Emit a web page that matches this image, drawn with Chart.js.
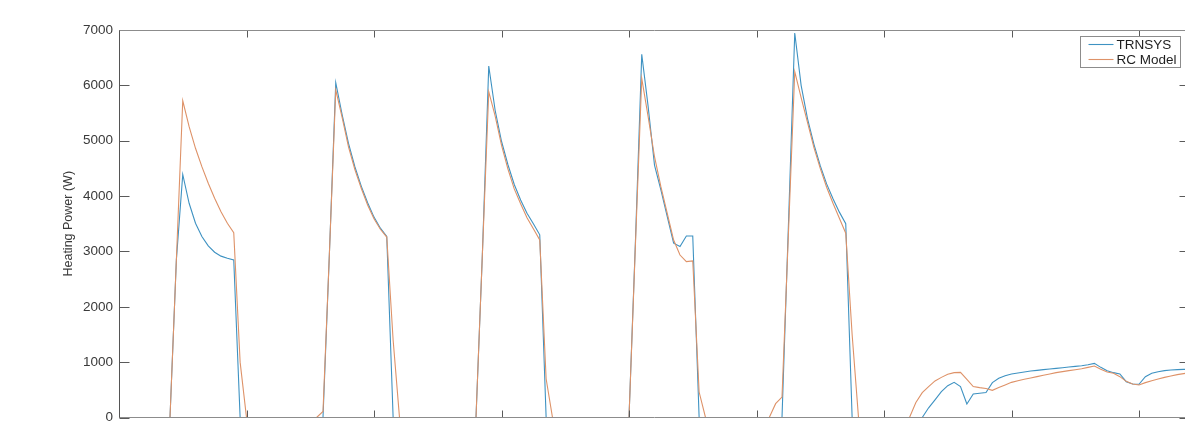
<!DOCTYPE html>
<html>
<head>
<meta charset="utf-8">
<title>Heating Power</title>
<script src="https://cdn.jsdelivr.net/npm/chart.js@4.4.1/dist/chart.umd.min.js"></script>
<style>
  html, body { margin: 0; padding: 0; background: #fff; overflow: hidden; }
  #wrap { position: absolute; left: 0; top: 0; width: 1200px; height: 440px; }
</style>
</head>
<body>
<div id="wrap"><canvas id="chart"></canvas></div>
<script>
// hourly heating power over one week (W)
const trnsys = [
  0, 0, 0, 0, 0, 0, 0, 0, 0,
  2850, 4390, 3870, 3510, 3270, 3100, 2985, 2915, 2875, 2845, 0,
  0, 0, 0, 0, 0, 0, 0, 0, 0, 0, 0, 0, 0,
  2950, 6048, 5470, 4950, 4530, 4180, 3880, 3620, 3420, 3270, 0,
  0, 0, 0, 0, 0, 0, 0, 0, 0, 0, 0, 0, 0,
  2950, 6349, 5550, 4990, 4570, 4210, 3930, 3690, 3500, 3300, 0,
  0, 0, 0, 0, 0, 0, 0, 0, 0, 0, 0, 0, 0,
  3150, 6560, 5620, 4560, 4110, 3630, 3150, 3090, 3280, 3280, 0,
  0, 0, 0, 0, 0, 0, 0, 0, 0, 0, 0, 0, 0,
  3450, 6945, 6000, 5400, 4940, 4550, 4220, 3950, 3710, 3500, 0,
  0, 0, 0, 0, 0, 0, 0, 0, 0, 0, 0,
  175, 320, 467, 575, 635, 557, 245, 425, 437, 450,
  630, 708, 756, 786, 804, 822, 840, 852, 864, 876,
  888, 900, 912, 924, 936, 954, 978, 906, 846, 810,
  786, 647, 605, 600, 738, 798, 828, 846, 858, 864,
  870, 870
];

const rcModel = [
  0, 0, 0, 0, 0, 0, 0, 0, 0,
  2850, 5722, 5253, 4863, 4531, 4231, 3960, 3718, 3508, 3338, 1000,
  0, 0, 0, 0, 0, 0, 0, 0, 0, 0, 0, 0, 110,
  2950, 5920, 5420, 4890, 4480, 4140, 3840, 3590, 3400, 3260, 1400,
  0, 0, 0, 0, 0, 0, 0, 0, 0, 0, 0, 0, 0,
  2950, 5886, 5450, 4920, 4490, 4130, 3860, 3610, 3410, 3206, 700,
  0, 0, 0, 0, 0, 0, 0, 0, 0, 0, 0, 0, 0,
  3100, 6127, 5434, 4711, 4170, 3688, 3206, 2935, 2815, 2830, 460,
  0, 0, 0, 0, 0, 0, 0, 0, 0, 0, 0, 250, 370,
  3300, 6247, 5780, 5330, 4880, 4500, 4160, 3870, 3600, 3330, 1500,
  0, 0, 0, 0, 0, 0, 0, 0, 0, 270, 450,
  557, 660, 725, 780, 810, 815, 690, 560, 540, 525,
  490, 540, 587, 635, 665, 690, 713, 738, 762, 786,
  810, 828, 846, 864, 882, 906, 930, 870, 822, 798,
  738, 653, 605, 587, 630, 665, 695, 725, 750, 774,
  792, 810
];

const hours = trnsys.map((_, i) => i);
const yTicks = [0, 1000, 2000, 3000, 4000, 5000, 6000, 7000];

const FONT = '"Liberation Sans", Arial, Helvetica, sans-serif';
const TEXT = '#3a3a3a';

// matlab style box with inward tick marks on all four sides
const axesBox = {
  id: 'axesBox',
  afterDatasetsDraw(chart) {
    const { ctx, chartArea: a, scales: { x, y } } = chart;
    const l = Math.round(a.left) + 0.5;
    const r = Math.round(a.right) - 0.5;
    const t = Math.round(a.top) + 0.5;
    const b = Math.round(a.bottom) - 0.5;
    ctx.save();
    ctx.lineWidth = 1;
    ctx.strokeStyle = '#5a5a5a';
    ctx.beginPath();
    for (const tk of y.ticks) {
      const py = Math.round(y.getPixelForValue(tk.value)) + 0.5;
      ctx.moveTo(l, py); ctx.lineTo(l + 10, py);
      ctx.moveTo(r, py); ctx.lineTo(r - 10, py);
    }
    for (const tk of x.ticks) {
      const px = Math.round(x.getPixelForValue(tk.value)) + 0.5;
      ctx.moveTo(px, t); ctx.lineTo(px, t + 7);
      ctx.moveTo(px, b); ctx.lineTo(px, b - 7);
    }
    ctx.stroke();
    ctx.strokeStyle = '#8c8c8c';
    ctx.beginPath();
    ctx.moveTo(l, t); ctx.lineTo(r, t); ctx.lineTo(r, b); ctx.lineTo(l, b);
    ctx.stroke();
    ctx.strokeStyle = '#555';
    ctx.beginPath();
    ctx.moveTo(l, t); ctx.lineTo(l, b);
    ctx.stroke();
    ctx.restore();
  }
};

// boxed legend in the north-east corner of the axes
const boxLegend = {
  id: 'boxLegend',
  afterDraw(chart) {
    const { ctx, chartArea: a } = chart;
    const sets = chart.data.datasets;
    ctx.save();
    ctx.font = '13.5px ' + FONT;
    const textW = Math.max(...sets.map(d => ctx.measureText(d.label).width));
    const right = Math.round(a.right) - 9.5;
    const top = Math.round(a.top) + 6.5;
    const rowH = 15;
    const w = Math.round(8 + 25 + 3 + textW + 4);
    const h = 31;
    const left = right - w;
    ctx.fillStyle = '#fff';
    ctx.fillRect(left, top, w, h);
    ctx.strokeStyle = '#8c8c8c';
    ctx.lineWidth = 1;
    ctx.strokeRect(left, top, w, h);
    sets.forEach((d, i) => {
      const cy = top + 8 + i * rowH;
      ctx.strokeStyle = d.borderColor;
      ctx.lineWidth = d.borderWidth;
      ctx.beginPath();
      ctx.moveTo(left + 8, cy);
      ctx.lineTo(left + 33, cy);
      ctx.stroke();
      ctx.fillStyle = '#1e1e1e';
      ctx.textBaseline = 'middle';
      ctx.fillText(d.label, left + 36, cy + 0.5);
    });
    ctx.restore();
  }
};

new Chart(document.getElementById('chart'), {
  type: 'line',
  data: {
    labels: hours,
    datasets: [
      {
        label: 'TRNSYS',
        data: trnsys,
        borderColor: 'rgb(62, 146, 194)',
        borderWidth: 1.1,
        pointRadius: 0,
        fill: false,
        order: 1
      },
      {
        label: 'RC Model',
        data: rcModel,
        borderColor: 'rgb(222, 146, 104)',
        borderWidth: 1.1,
        pointRadius: 0,
        fill: false,
        order: 0
      }
    ]
  },
  options: {
    responsive: true,
    maintainAspectRatio: false,
    animation: false,
    devicePixelRatio: 1,
    layout: { padding: { left: 0, top: 30, right: 10, bottom: 22.5 } },
    plugins: {
      legend: { display: false },
      tooltip: { enabled: false }
    },
    scales: {
      x: {
        type: 'linear',
        min: 0,
        max: 168,
        grid: { display: false, drawTicks: false },
        border: { display: false },
        ticks: { display: false, stepSize: 20, includeBounds: false },
        afterFit(scale) { scale.height = 0; }
      },
      y: {
        min: 0,
        max: 7000,
        grid: { display: false, drawTicks: false, tickLength: 0 },
        border: { display: false },
        afterBuildTicks(scale) { scale.ticks = yTicks.map(v => ({ value: v })); },
        afterFit(scale) { scale.width = 119; },
        ticks: {
          padding: 6,
          color: TEXT,
          font: { family: FONT, size: 13.5 },
          callback: v => String(v)
        },
        title: {
          display: true,
          text: 'Heating Power (W)',
          color: TEXT,
          font: { family: FONT, size: 12.5 },
          padding: { top: 61, bottom: 0 }
        }
      }
    }
  },
  plugins: [axesBox, boxLegend]
});
</script>
</body>
</html>
